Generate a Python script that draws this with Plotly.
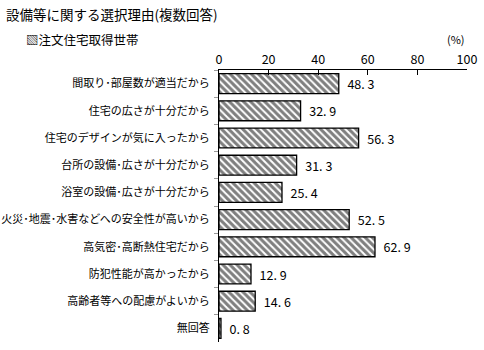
import plotly.graph_objects as go

categories = [
    "間取り･部屋数が適当だから",
    "住宅の広さが十分だから",
    "住宅のデザインが気に入ったから",
    "台所の設備･広さが十分だから",
    "浴室の設備･広さが十分だから",
    "火災･地震･水害などへの安全性が高いから",
    "高気密･高断熱住宅だから",
    "防犯性能が高かったから",
    "高齢者等への配慮がよいから",
    "無回答",
]
values = [48.3, 32.9, 56.3, 31.3, 25.4, 52.5, 62.9, 12.9, 14.6, 0.8]
series_name = "注文住宅取得世帯"
title = "設備等に関する選択理由(複数回答)"
x_ticks = [0, 20, 40, 60, 80, 100]

FONT = "Noto Sans CJK JP"
L, R, T, B = 219, 17, 70, 8
W, H = 484, 350
pw, ph = W - L - R, H - T - B

fig = go.Figure()
fig.add_trace(go.Bar(
    y=categories, x=values, orientation="h", name=series_name,
    marker=dict(color="white", line=dict(color="black", width=1.3),
                pattern=dict(shape="\\", fgcolor="black", bgcolor="white", size=5, solidity=0.6)),
    text=["  " + f"{v:.1f}".replace(".", ". ") for v in values],
    textposition="outside", cliponaxis=False,
    textfont=dict(family=FONT, size=12.5, color="black"),
    showlegend=False,
))

fig.update_layout(
    width=W, height=H, margin=dict(l=L, r=R, t=T, b=B, autoexpand=False),
    paper_bgcolor="white", plot_bgcolor="white",
    bargap=0.27,
    font=dict(family=FONT, color="black"),
    xaxis=dict(side="top", range=[0, 100], tickvals=x_ticks, ticks="inside", ticklen=5,
               tickcolor="black", showline=True, linecolor="black", linewidth=1,
               showgrid=False, zeroline=False, tickfont=dict(family=FONT, size=12.5),
               automargin=False, fixedrange=True),
    yaxis=dict(autorange="reversed", showline=True, linecolor="black", linewidth=1,
               ticks="outside", tickson="boundaries", ticklen=4, tickcolor="#999",
               showgrid=False, tickfont=dict(family=FONT, size=11), ticklabelstandoff=6,
               automargin=False),
    annotations=[
        dict(text=title, x=(4 - L) / pw, y=(H - B - 14) / ph, xref="paper", yref="paper",
             xanchor="left", yanchor="middle", showarrow=False, font=dict(family=FONT, size=13.5)),
        dict(text="▧" + series_name, x=(24 - L) / pw, y=(H - B - 40) / ph, xref="paper", yref="paper",
             xanchor="left", yanchor="middle", showarrow=False, font=dict(family=FONT, size=12.5)),
        dict(text="(%)", x=1.0, y=(H - B - 39) / ph, xref="paper", yref="paper",
             xanchor="right", yanchor="middle", showarrow=False, font=dict(family=FONT, size=11)),
    ],
)

fig.write_html("out.html")
